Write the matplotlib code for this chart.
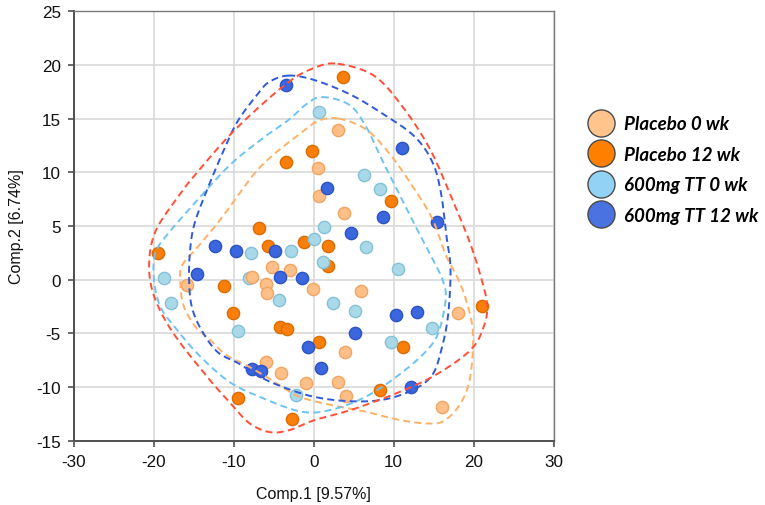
import numpy as np
import matplotlib
matplotlib.use("Agg")
import matplotlib.pyplot as plt
from matplotlib.lines import Line2D

plt.rcParams['font.family'] = ['Liberation Sans', 'DejaVu Sans']
plt.rcParams['axes.unicode_minus'] = False

# ---------------- data ----------------
groups = ["Placebo 0 wk", "Placebo 12 wk", "600mg TT 0 wk", "600mg TT 12 wk"]

p0_x = [3.0, 0.5, 0.7, 3.8, -5.2, -3.0, -7.7, -6.0, -5.8, -15.9, -0.1, 5.9, 18.1, 3.9, -6.0, -4.1, -1.0, 3.0, 4.0, 16.0]
p0_y = [13.9, 10.4, 7.8, 6.2, 1.2, 0.9, 0.25, -0.4, -1.2, -0.46, -0.9, -1.05, -3.1, -6.7, -7.7, -8.7, -9.6, -9.5, -10.8, -11.9]

p12_x = [3.7, -0.2, -3.5, 9.7, -6.9, -1.25, -5.7, 1.75, -19.5, 1.8, -11.25, -10.1, -4.2, -3.3, 0.6, 11.2, 21.1, 8.3, -9.5, -2.7]
p12_y = [18.9, 12.0, 11.0, 7.3, 4.8, 3.5, 3.1, 3.1, 2.5, 1.3, -0.6, -3.15, -4.45, -4.55, -5.85, -6.3, -2.45, -10.3, -11.0, -13.0]

t0_x = [0.6, 6.25, 8.3, 1.3, 0.0, 6.5, -2.9, -7.8, 1.1, 10.5, -18.8, -8.1, -4.4, -17.9, 2.4, 5.2, 14.8, -9.5, 9.7, -2.2]
t0_y = [15.6, 9.7, 8.4, 4.9, 3.8, 3.0, 2.7, 2.5, 1.6, 1.0, 0.15, 0.15, -1.85, -2.2, -2.2, -2.9, -4.5, -4.8, -5.8, -10.7]

t12_x = [-3.5, 11.0, 1.7, 8.6, 15.4, 4.7, -4.8, -9.7, -12.4, -14.6, -4.2, -1.5, 10.3, 12.9, 5.1, -0.7, 0.9, -7.7, -6.6, 12.2]
t12_y = [18.1, 12.3, 8.5, 5.8, 5.35, 4.3, 2.7, 2.7, 3.1, 0.5, 0.2, 0.15, -3.25, -3.0, -4.95, -6.3, -8.2, -8.3, -8.5, -10.0]

# group outlines (dashed contours), data units
p0_cx = [3.1, 6.5, 9.4, 12.3, 14.8, 16.5, 17.9, 19.0, 19.9, 19.6, 18.5, 16.5, 14.4, 10.6, 6.5, 2.3, -1.5, -3.1, -5.6, -8.5, -11.0, -13.1, -14.8, -16.3, -16.7, -16.5, -14.8, -12.3, -9.8, -7.3, -4.8, -1.5, 0.6]
p0_cy = [15.0, 14.0, 11.8, 8.75, 5.7, 2.3, 0.3, -1.8, -4.85, -8.9, -11.35, -13.05, -13.4, -13.05, -12.3, -11.7, -11.0, -10.4, -9.2, -7.95, -7.0, -5.5, -4.4, -2.4, -0.2, 1.3, 2.8, 5.0, 7.5, 10.0, 11.8, 13.7, 14.8]

p12_cx = [3.0, 7.5, 11.0, 14.5, 17.3, 19.5, 21.0, 21.7, 21.2, 19.8, 16.5, 12.2, 5.2, 0.0, -3.0, -5.5, -8.0, -10.2, -13.5, -17.7, -20.0, -20.6, -19.8, -17.2, -14.8, -9.8, -3.5, 0.0]
p12_cy = [20.1, 19.0, 16.2, 12.2, 7.5, 3.5, 0.0, -2.5, -4.5, -6.4, -8.3, -10.0, -12.0, -13.1, -14.0, -14.2, -13.4, -11.7, -8.9, -4.85, -1.5, 1.5, 4.5, 7.5, 9.8, 14.0, 18.2, 19.7]

t0_cx = [1.0, 4.4, 6.5, 8.5, 10.6, 12.7, 14.8, 16.1, 16.5, 15.6, 14.0, 10.6, 6.5, 2.3, -1.5, -6.5, -10.6, -14.4, -17.3, -19.2, -20.0, -19.8, -18.1, -14.8, -10.6, -6.5, -3.1, -1.0]
t0_cy = [17.0, 16.3, 14.3, 11.2, 8.1, 5.0, 2.0, 0.0, -1.8, -4.9, -6.7, -8.9, -10.9, -12.1, -12.3, -11.0, -9.5, -7.0, -4.5, -2.5, 0.0, 2.5, 4.4, 7.2, 10.6, 13.1, 14.9, 16.3]

t12_cx = [-3.2, 0.0, 4.4, 8.3, 12.5, 14.8, 15.9, 16.6, 17.1, 16.8, 16.0, 14.8, 12.3, 8.5, 4.0, -0.6, -5.2, -7.7, -9.4, -12.1, -14.2, -15.3, -15.6, -15.5, -15.0, -13.5, -11.0, -9.4, -7.0, -5.6]
t12_cy = [19.0, 18.6, 17.3, 15.6, 13.4, 11.0, 8.1, 4.0, 1.0, -3.3, -6.4, -8.9, -10.3, -11.2, -11.3, -10.8, -9.6, -8.6, -7.8, -6.7, -4.5, -2.4, 0.0, 2.5, 5.0, 8.1, 12.5, 14.9, 17.3, 18.4]

x_ticks = [-30, -20, -10, 0, 10, 20, 30]
y_ticks = [-15, -10, -5, 0, 5, 10, 15, 20, 25]
x_label = "Comp.1 [9.57%]"
y_label = "Comp.2 [6.74%]"

# ---------------- styles ----------------
pt_fill = ['#FFBF88', '#F97E0A', '#A9D8E8', '#3C66DE']
pt_edge = ['#F2A461', '#DB6C00', '#84C1D6', '#2C52C4']
leg_fill = ['#FFC48C', '#FF8000', '#92D3F5', '#4A72E0']
line_col = ['#FFB066', '#FF4F36', '#6EC3F3', '#2F5AD8']


def closed_smooth(xs, ys, n=24):
    P = np.column_stack([xs, ys]).astype(float)
    N = len(P)
    t = np.linspace(0, 1, n, endpoint=False)[:, None]
    out = []
    for i in range(N):
        p0, p1, p2, p3 = P[(i - 1) % N], P[i], P[(i + 1) % N], P[(i + 2) % N]
        pts = 0.5 * (2 * p1 + (-p0 + p2) * t + (2 * p0 - 5 * p1 + 4 * p2 - p3) * t ** 2
                     + (-p0 + 3 * p1 - 3 * p2 + p3) * t ** 3)
        out.append(pts)
    out.append(P[:1])
    return np.vstack(out)


fig = plt.figure(figsize=(7.65, 5.06), dpi=100)
ax = fig.add_axes([0.0967, 0.127, 0.627, 0.849])

ax.set_xlim(-30, 30)
ax.set_ylim(-15, 25)
ax.set_xticks(x_ticks)
ax.set_yticks(y_ticks)
ax.grid(True, color='#D9D9D9', linewidth=1.2, zorder=0)
ax.set_axisbelow(True)

pts = [(p12_x, p12_y, 1), (t0_x, t0_y, 2), (p0_x, p0_y, 0), (t12_x, t12_y, 3)]
for xs, ys, k in pts:
    ax.scatter(xs, ys, s=78, c=pt_fill[k], edgecolors=pt_edge[k], linewidths=1.0, zorder=3)

outlines = [(p0_cx, p0_cy, 0), (t0_cx, t0_cy, 2), (t12_cx, t12_cy, 3), (p12_cx, p12_cy, 1)]
for cx, cy, k in outlines:
    c = closed_smooth(cx, cy)
    ax.plot(c[:, 0], c[:, 1], color=line_col[k], linewidth=1.4,
            linestyle=(0, (3.6, 2.2)), zorder=4)

for s in ['left', 'bottom']:
    ax.spines[s].set_color('#505050')
    ax.spines[s].set_linewidth(1.4)
for s in ['top', 'right']:
    ax.spines[s].set_color('#7A7A7A')
    ax.spines[s].set_linewidth(1.0)

ax.tick_params(axis='both', direction='out', length=4.5, width=1.2, color='#505050',
               labelsize=12.3, pad=5, labelcolor='#111111')

ax.set_xlabel(x_label, fontsize=11.5, labelpad=12, color='#111111')
ax.set_ylabel(y_label, fontsize=11.5, labelpad=9, color='#111111')

handles = [Line2D([], [], marker='o', linestyle='none', markersize=19.5,
                  markerfacecolor=leg_fill[k], markeredgecolor='#4A4A4A',
                  markeredgewidth=1.0) for k in range(4)]
leg = ax.legend(handles, groups, loc='center left', bbox_to_anchor=(1.024, 0.631),
                frameon=False, labelspacing=0.72, handletextpad=0.25,
                prop={'family': ['Lato', 'DejaVu Sans'], 'weight': 'bold',
                      'style': 'italic', 'size': 13.5})

fig.savefig('out.png', dpi=100)
